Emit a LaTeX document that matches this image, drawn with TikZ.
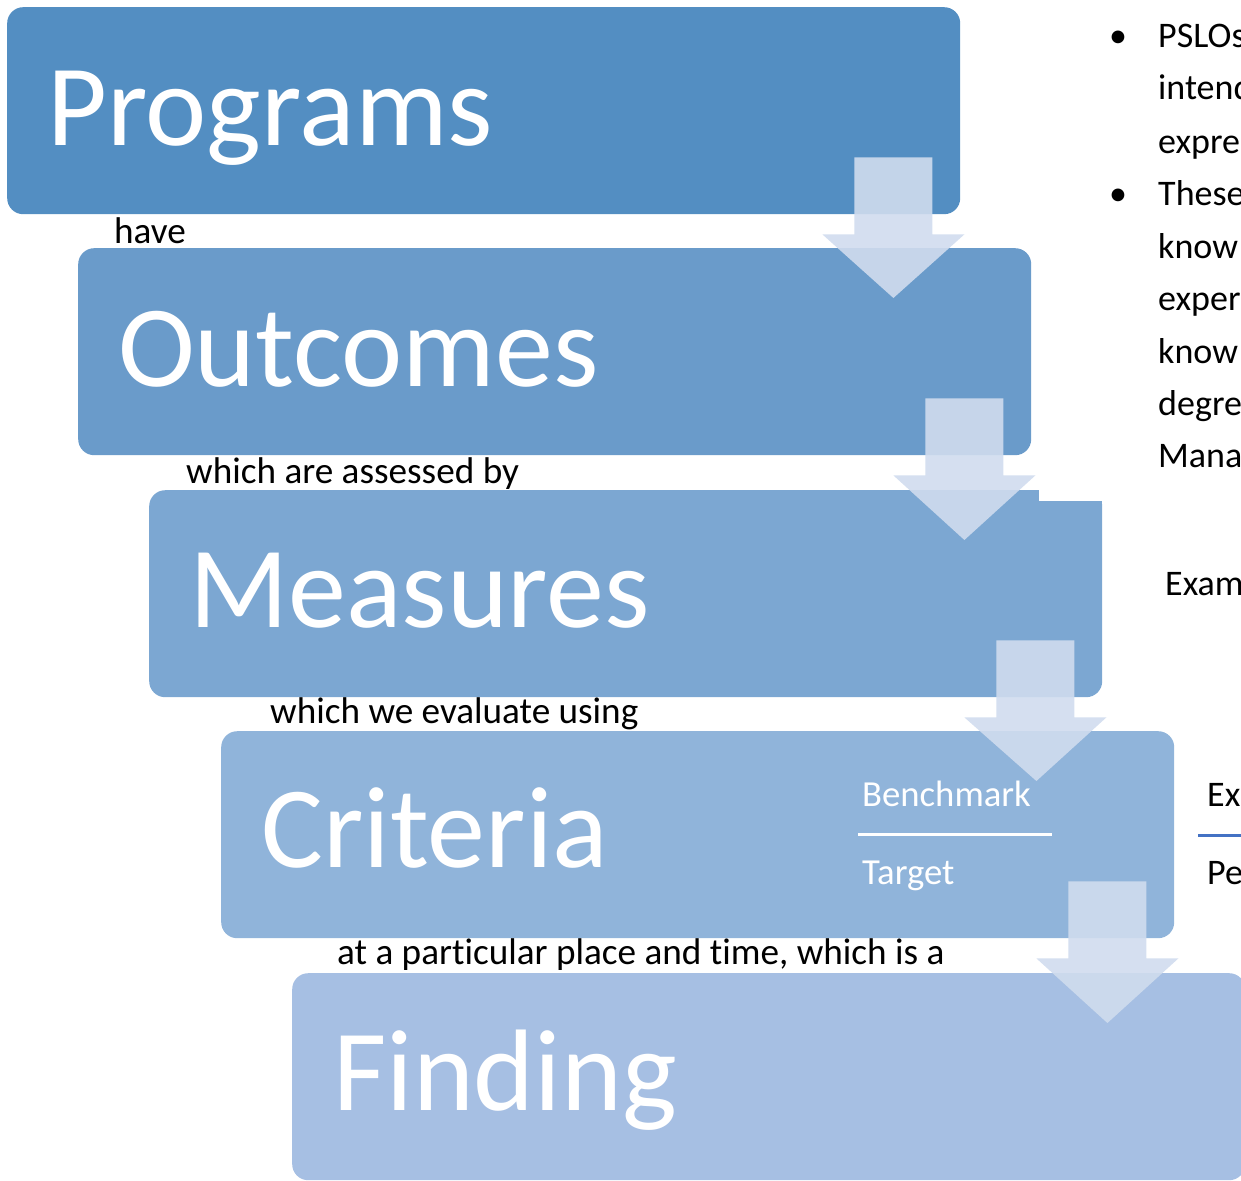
\documentclass[tikz,border=0pt]{standalone}
\usepackage{fontspec}
\setmainfont{Carlito}[Ligatures=NoCommon]
\usetikzlibrary{calc}
\definecolor{cP}{RGB}{83,142,194}
\definecolor{cO}{RGB}{106,155,202}
\definecolor{cM}{RGB}{124,167,210}
\definecolor{cC}{RGB}{144,180,218}
\definecolor{cF}{RGB}{166,191,227}
\definecolor{cArr}{RGB}{208,220,238}
\definecolor{cLine}{RGB}{68,114,196}
\tikzset{
  box/.style={rounded corners=16pt, minimum width=953pt, minimum height=207pt, inner sep=0pt, anchor=north west, draw=none},
  big/.style={text=white, font=\fontsize{116}{120}\selectfont, anchor=base west, inner sep=0pt},
  lab/.style={text=black, font=\fontsize{36}{40}\selectfont, anchor=base west, inner sep=0pt},
  clab/.style={text=black, font=\fontsize{37.2}{40}\selectfont, anchor=base west, inner sep=0pt},
  wlab/.style={text=white, font=\fontsize{36.7}{40}\selectfont, anchor=base west, inner sep=0pt},
  arr/.style={fill=cArr, fill opacity=0.9},
}
\newcommand\blockarr[2]{%
  \fill[arr] ($(#1.south east)+(-106,-57)$) -- ($(#1.south east)+(-28,-57)$)
    -- ($(#1.south east)+(-28,20)$) -- ($(#1.south east)+(4,20)$)
    -- ($(#2.north east)+(-138,50)$)
    -- ($(#1.south east)+(-138,20)$) -- ($(#1.south east)+(-106,20)$) -- cycle;}
\begin{document}
\begin{tikzpicture}[x=1pt,y=-1pt]
\useasboundingbox (0,0) rectangle (1241,1180);
\clip (0,0) rectangle (1241,1180);
% boxes
\node[box, fill=cP] (p) at (7,7) {};
\node[box, fill=cO] (o) at (78,248) {};
\node[box, fill=cM] (m) at (149,490) {};
\node[box, fill=cC] (c) at (221,731) {};
\node[box, fill=cF] (f) at (292,973) {};
% notch of the Measures box
\fill[white] ($(m.north east)+(-63,-1)$) rectangle ($(m.north east)+(2,11)$);
\fill[cM] ($(m.north east)+(-63,11)$) rectangle ($(m.north east)+(0,40)$);
% arrows
\blockarr{p}{o}
\blockarr{o}{m}
\blockarr{m}{c}
\blockarr{c}{f}
% big labels
\node[big] (tp) at (47,145) {Programs};
\node[big] (to) at (118,386) {Outcomes};
\node[big] (tm) at (189,627) {Measures};
\node[big] (tc) at (261,867) {Criteria};
\node[big] (tf) at (333,1110) {Finding};
% connecting phrases
\node[clab] (l1) at (114,243) {have};
\node[clab] (l2) at (186,483) {which are assessed by};
\node[clab] (l3) at (270,723) {which we evaluate using};
\node[clab] (l4) at (337,964) {at a particular place and time, which is a};
% benchmark / target
\node[wlab] (bm) at (862,806) {Benchmark};
\node[wlab] (tg) at (862,884) {Target};
\draw[white, line width=3pt] (858,834) -- (1052,834);
% right column
\node[lab] (b1) at (1109,48) {•};
\node[lab] (r1) at (1158,48) {PSLOs};
\node[lab] (r2) at (1158,100) {intend};
\node[lab] (r3) at (1158,153) {expre};
\node[lab] (b2) at (1109,205) {•};
\node[lab] (r4) at (1158,205) {These};
\node[lab] (r5) at (1158,258) {know};
\node[lab] (r6) at (1158,310) {exper};
\node[lab] (r7) at (1158,363) {know};
\node[lab] (r8) at (1158,415) {degre};
\node[lab] (r9) at (1158,467) {Mana};
\node[lab] (ex1) at (1165,595) {Exam};
\node[lab] (ex2) at (1207,806) {Ex};
\draw[cLine, line width=3pt] (1198,835) -- (1241,835);
\node[lab] (pe) at (1207,884) {Pe};
\end{tikzpicture}
\end{document}
